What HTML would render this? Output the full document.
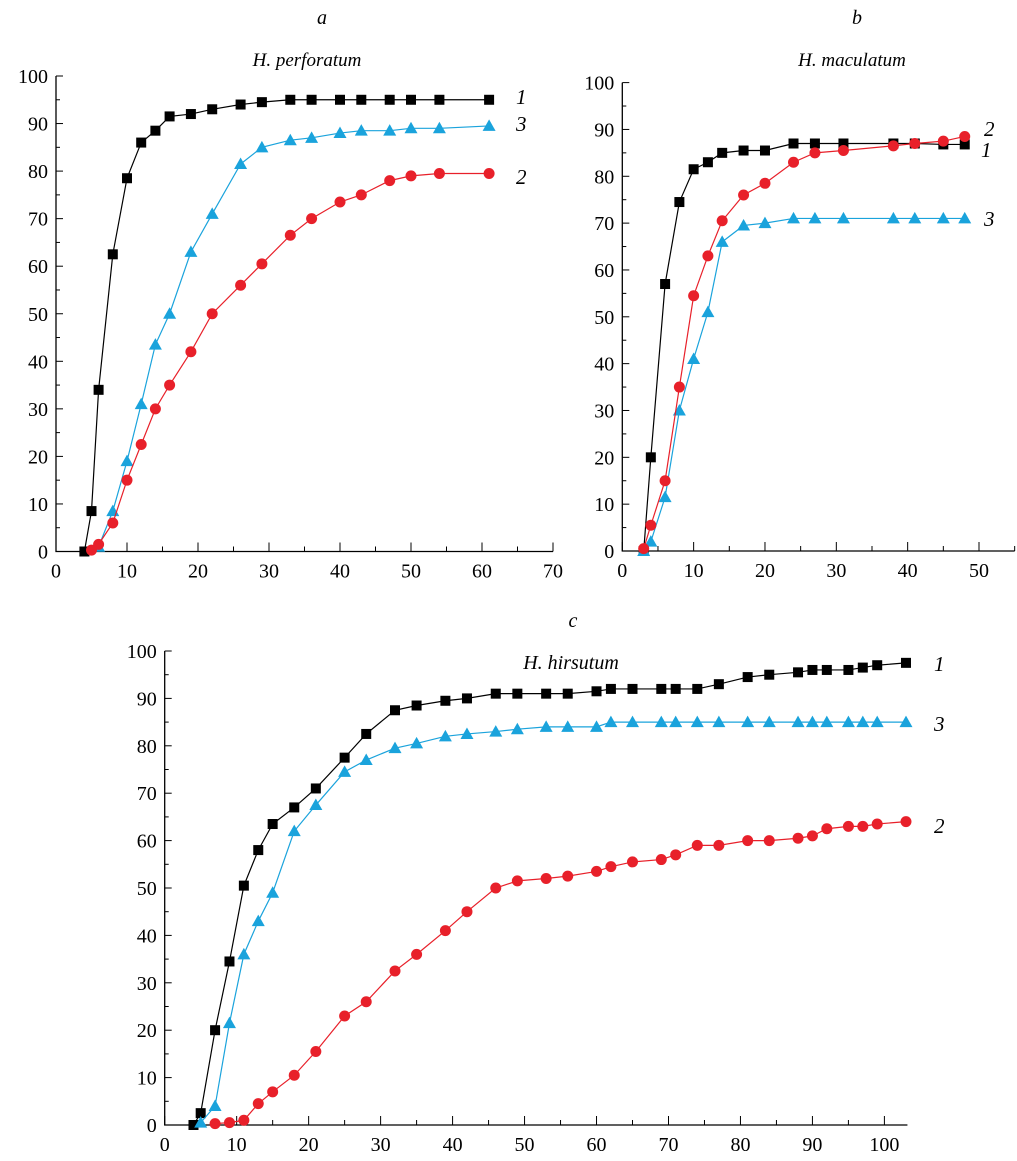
<!DOCTYPE html>
<html><head><meta charset="utf-8"><style>
body{margin:0;background:#fff;}
svg{display:block;font-family:"Liberation Serif",serif;}
</style></head><body>
<svg id="chart" width="1017" height="1161" viewBox="0 0 1017 1161" xmlns="http://www.w3.org/2000/svg">
<text x="322" y="24" font-size="20" font-style="italic" text-anchor="middle">a</text>
<text x="857" y="24" font-size="20" font-style="italic" text-anchor="middle">b</text>
<text x="573" y="627" font-size="20" font-style="italic" text-anchor="middle">c</text>
<text x="307" y="66" font-size="19" font-style="italic" text-anchor="middle">H. perforatum</text>
<text x="852" y="66" font-size="19" font-style="italic" text-anchor="middle">H. maculatum</text>
<text x="571" y="669" font-size="20" font-style="italic" text-anchor="middle">H. hirsutum</text>
</svg>
<script>
// Panel a
const aX1=[4,5,6,8,10,12,14,16,19,22,26,29,33,36,40,43,47,50,54,61];
const aY1=[0,8.5,34,62.5,78.5,86,88.5,91.5,92,93,94,94.5,95,95,95,95,95,95,95,95];
const aX2=[5,6,8,10,12,14,16,19,22,26,29,33,36,40,43,47,50,54,61];
const aY2=[0.3,1.5,6,15,22.5,30,35,42,50,56,60.5,66.5,70,73.5,75,78,79,79.5,79.5];
const aX3=[6,8,10,12,14,16,19,22,26,29,33,36,40,43,47,50,54,61];
const aY3=[1,8.5,19,31,43.5,50,63,71,81.5,85,86.5,87,88,88.5,88.5,89,89,89.5];
// Panel b
const bX=[3,4,6,8,10,12,14,17,20,24,27,31,38,41,45,48];
const bY1=[0,20,57,74.5,81.5,83,85,85.5,85.5,87,87,87,87,87,86.8,86.8];
const bY2=[0.5,5.5,15,35,54.5,63,70.5,76,78.5,83,85,85.5,86.5,87,87.5,88.5];
const bY3=[0,2,11.5,30,41,51,66,69.5,70,71,71,71,71,71,71,71];
// Panel c
const cX1=[4,5,7,9,11,13,15,18,21,25,28,32,35,39,42,46,49,53,56,60,62,65,69,71,74,77,81,84,88,90,92,95,97,99,103];
const cY1=[0,2.5,20,34.5,50.5,58,63.5,67,71,77.5,82.5,87.5,88.5,89.5,90,91,91,91,91,91.5,92,92,92,92,92,93,94.5,95,95.5,96,96,96,96.5,97,97.5];
const cX3=[5,7,9,11,13,15,18,21,25,28,32,35,39,42,46,49,53,56,60,62,65,69,71,74,77,81,84,88,90,92,95,97,99,103];
const cY3=[0.5,4,21.5,36,43,49,62,67.5,74.5,77,79.5,80.5,82,82.5,83,83.5,84,84,84,85,85,85,85,85,85,85,85,85,85,85,85,85,85,85];
const cX2=[7,9,11,13,15,18,21,25,28,32,35,39,42,46,49,53,56,60,62,65,69,71,74,77,81,84,88,90,92,95,97,99,103];
const cY2=[0.3,0.5,1,4.5,7,10.5,15.5,23,26,32.5,36,41,45,50,51.5,52,52.5,53.5,54.5,55.5,56,57,59,59,60,60,60.5,61,62.5,63,63,63.5,64];
const yTicks=[0,10,20,30,40,50,60,70,80,90,100];
const aXTicks=[0,10,20,30,40,50,60,70];
const bXTicks=[0,10,20,30,40,50];
const cXTicks=[0,10,20,30,40,50,60,70,80,90,100];

const svg=document.getElementById('chart');
const NS='http://www.w3.org/2000/svg';
function mk(tag,attrs,parent){const e=document.createElementNS(NS,tag);for(const k in attrs)e.setAttribute(k,attrs[k]);(parent||svg).appendChild(e);return e;}
const BLACK='#000',RED='#e8202a',BLUE='#1aa3dc';

function panel(id,px0,px1,xmax,xlen,py0,py100,xTicks,minorX){
  const g=mk('g',{});
  
  
  const sx=v=>px0+(v/xmax)*(px1-px0);
  const sy=v=>py0+(v/100)*(py100-py0);
  const ax=mk('path',{d:`M${px0},${py100}V${py0}H${sx(xlen)}`,stroke:'#000','stroke-width':1.3,fill:'none'},g);
  
  
  for(let v=0;v<=100;v+=5){const maj=v%10===0;mk('line',{x1:px0,x2:px0+(maj?7:4),y1:sy(v),y2:sy(v),stroke:'#000','stroke-width':1},g);}
  yTicks.forEach(v=>{const t=mk('text',{x:px0-8,y:sy(v)+7,'font-size':20,'text-anchor':'end'},g);t.textContent=v;
    });
  for(let v=0;v<=xlen+0.01;v+=minorX){const maj=Math.abs(v/10-Math.round(v/10))<1e-6;mk('line',{x1:sx(v),x2:sx(v),y1:py0,y2:py0-(maj?9:5),stroke:'#000','stroke-width':1},g);}
  xTicks.forEach(v=>{const t=mk('text',{x:sx(v),y:py0+26,'font-size':20,'text-anchor':'middle'},g);t.textContent=v;
    });
  return {g,sx,sy};
}
function series(p,xs,ys,color,shape,name){
  const g=mk('g',{},p.g);
  
  
  mk('polyline',{points:xs.map((x,i)=>p.sx(x)+','+p.sy(ys[i])).join(' '),fill:'none',stroke:color,'stroke-width':1.2},g);
  xs.forEach((x,i)=>{const cx=p.sx(x),cy=p.sy(ys[i]);let m;
    if(shape==='sq')m=mk('rect',{x:cx-5,y:cy-5,width:10,height:10,fill:color},g);
    else if(shape==='ci')m=mk('circle',{cx,cy,r:5.5,fill:color},g);
    else m=mk('path',{d:`M${cx},${cy-6.5}L${cx+6.5},${cy+5}L${cx-6.5},${cy+5}Z`,fill:color},g);
    
    
  });
}
function label(txt,x,y,name){const t=mk('text',{x,y,'font-size':21,'font-style':'italic'});t.textContent=txt;
  }

const pa=panel('a',56,553,70,70,551.5,76,aXTicks,5);
series(pa,aX1,aY1,BLACK,'sq','series-1-a');
series(pa,aX3,aY3,BLUE,'tr','series-3-a');
series(pa,aX2,aY2,RED,'ci','series-2-a');
label('1',516,104,'label-1-a');label('3',516,131,'label-3-a');label('2',516,184,'label-2-a');

const pb=panel('b',622.3,979,50,55,551,82.6,bXTicks,5);
series(pb,bX,bY1,BLACK,'sq','series-1-b');
series(pb,bX,bY3,BLUE,'tr','series-3-b');
series(pb,bX,bY2,RED,'ci','series-2-b');
label('2',984,136,'label-2-b');label('1',981,157,'label-1-b');label('3',984,226,'label-3-b');

const pc=panel('c',164.7,884.4,100,103.2,1125,651,cXTicks,5);
series(pc,cX1,cY1,BLACK,'sq','series-1-c');
series(pc,cX3,cY3,BLUE,'tr','series-3-c');
series(pc,cX2,cY2,RED,'ci','series-2-c');
label('1',934,671,'label-1-c');label('3',934,731,'label-3-c');label('2',934,833,'label-2-c');
</script>
</body></html>
